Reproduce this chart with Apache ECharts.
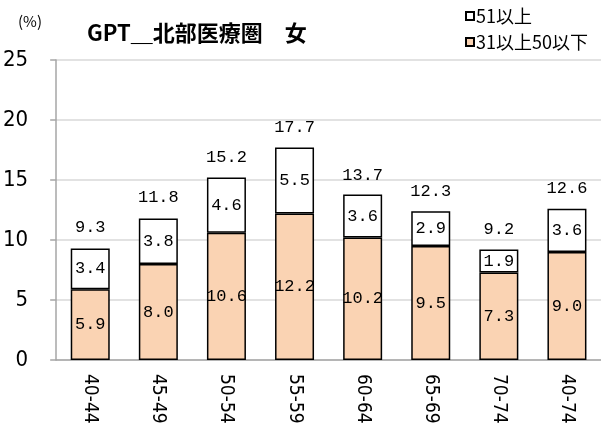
<!DOCTYPE html>
<html>
<head>
<meta charset="utf-8">
<script src="https://cdn.jsdelivr.net/npm/echarts@6/dist/echarts.min.js"></script>
<style>
  html, body { margin: 0; padding: 0; background: #fff; }
  #chart { width: 601px; height: 430px; }
</style>
</head>
<body>
<div id="chart"></div>
<script>
// Age groups along the x axis
const categories = ['40-44', '45-49', '50-54', '55-59', '60-64', '65-69', '70-74', '40-74'];
// Share (%) in the 31–50 band (lower stack)
const band31to50 = [5.9, 8.0, 10.6, 12.2, 10.2, 9.5, 7.3, 9.0];
// Share (%) at 51 and above (upper stack)
const band51plus = [3.4, 3.8, 4.6, 5.5, 3.6, 2.9, 1.9, 3.6];
// Combined share (%) printed above each column
const totals = [9.3, 11.8, 15.2, 17.7, 13.7, 12.3, 9.2, 12.6];
// Value-axis ticks
const yTicks = [0, 5, 10, 15, 20, 25];

const SANS = '"Noto Sans CJK JP", "Noto Sans", sans-serif';
const NARROW = '"Liberation Sans Narrow", "DejaVu Sans Condensed", "Noto Sans", sans-serif';
const MONO = '"Liberation Mono", "DejaVu Sans Mono", monospace';

const fmt = p => Number(p.value).toFixed(1);

const chart = echarts.init(document.getElementById('chart'), null, { renderer: 'canvas' });
chart.setOption({
  animation: false,
  backgroundColor: '#ffffff',
  title: [
    {
      text: 'GPT＿北部医療圏　女',
      left: 82, top: 17,
      textStyle: { fontFamily: SANS, fontSize: 22, fontWeight: 'bold', color: '#000' }
    },
    {
      text: '(%)',
      left: 13, top: 9,
      textStyle: { fontFamily: SANS, fontSize: 15, fontWeight: 'normal', color: '#000' }
    }
  ],
  legend: {
    orient: 'vertical',
    left: 460, top: 2,
    itemWidth: 8, itemHeight: 8,
    itemGap: 8,
    icon: 'rect',
    data: ['51以上', '31以上50以下'],
    textStyle: { fontFamily: SANS, fontSize: 18, color: '#000', padding: [0, 0, 0, -3] }
  },
  grid: { left: 56, top: 60, width: 548, height: 300, containLabel: false },
  xAxis: {
    type: 'category',
    data: categories,
    axisLine: { show: true, lineStyle: { color: '#a6a6a6', width: 1.5 } },
    axisTick: { show: false },
    axisLabel: {
      rotate: -90,
      margin: 14,
      fontFamily: NARROW, fontSize: 19, color: '#000'
    }
  },
  yAxis: {
    type: 'value',
    min: yTicks[0], max: yTicks[yTicks.length - 1], interval: 5,
    axisLine: { show: true, lineStyle: { color: '#a6a6a6', width: 1.5 } },
    axisTick: { show: true, length: 6, lineStyle: { color: '#a6a6a6', width: 1.5 } },
    splitLine: { show: true, lineStyle: { color: '#d9d9d9', width: 1.5 } },
    axisLabel: { margin: 28, fontFamily: NARROW, fontSize: 22, color: '#000' }
  },
  series: [
    {
      name: '31以上50以下',
      type: 'bar',
      stack: 'share',
      barWidth: 39,
      data: band31to50,
      itemStyle: { color: '#FAD3B3', borderColor: '#000', borderWidth: 1.5 },
      label: { show: true, position: 'inside', formatter: fmt, fontFamily: MONO, fontSize: 17, color: '#000' }
    },
    {
      name: '51以上',
      type: 'bar',
      stack: 'share',
      barWidth: 39,
      data: band51plus,
      itemStyle: { color: '#ffffff', borderColor: '#000', borderWidth: 1.5 },
      label: { show: true, position: 'inside', formatter: fmt, fontFamily: MONO, fontSize: 17, color: '#000' }
    },
    {
      name: 'total',
      type: 'bar',
      barWidth: 39,
      barGap: '-100%',
      z: 1,
      silent: true,
      data: totals,
      itemStyle: { color: 'rgba(0,0,0,0)', borderWidth: 0 },
      label: { show: true, position: 'top', distance: 12, formatter: fmt, fontFamily: MONO, fontSize: 17, color: '#000' }
    }
  ]
});
</script>
</body>
</html>
